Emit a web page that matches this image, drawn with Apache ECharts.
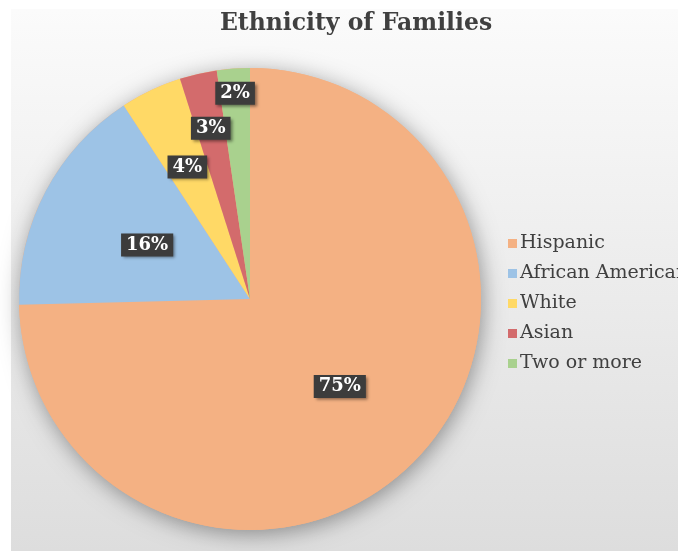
<!DOCTYPE html>
<html>
<head>
<meta charset="utf-8">
<style>
html,body{margin:0;padding:0;background:#ffffff;}
#chart{width:678px;height:551px;}
</style>
<script src="https://cdn.jsdelivr.net/npm/echarts@6/dist/echarts.min.js"></script>
</head>
<body>
<div id="chart"></div>
<script>
// ---- data ----
const titleText = 'Ethnicity of Families';
const categories = ['Hispanic', 'African American', 'White', 'Asian', 'Two or more'];
const values = [74.6, 16.2, 4.3, 2.6, 2.3];
// ---- styles ----
const colors = ['#F4B183', '#9DC3E6', '#FFD966', '#D36B6C', '#A9D18E'];
const labelRadiusFrac = [0.53, 0.49, 0.62, 0.745, 0.88]; // radial position of each label, as fraction of pie radius
const center = [250, 299];
const R = 231;
const serif = '"DejaVu Serif", "Liberation Serif", serif';

const chart = echarts.init(document.getElementById('chart'), null, {renderer: 'canvas'});

const baseData = categories.map((c, i) => ({name: c, value: values[i]}));

const series = [];
// shadow disc under the pie
series.push({
  type: 'pie', silent: true, center: center, radius: [0, R], startAngle: 90,
  label: {show: false}, labelLine: {show: false}, legendHoverLink: false,
  emphasis: {disabled: true},
  data: [{name: '__shadow', value: values.reduce((a, b) => a + b, 0),
    itemStyle: {color: '#F4B183', shadowBlur: 22, shadowColor: 'rgba(0,0,0,0.38)', shadowOffsetX: 2, shadowOffsetY: 4}}]
});
// main pie
series.push({
  type: 'pie', name: 'main', center: center, radius: [0, R], startAngle: 90, clockwise: true,
  color: colors, label: {show: false}, labelLine: {show: false},
  itemStyle: {borderWidth: 0},
  emphasis: {disabled: true},
  data: baseData
});
// label carrier series (transparent), one per label so each sits at its own radius
categories.forEach((c, k) => {
  series.push({
    type: 'pie', silent: true, center: center, radius: [0, 2 * R * labelRadiusFrac[k]],
    startAngle: 90, clockwise: true, legendHoverLink: false,
    emphasis: {disabled: true},
    itemStyle: {color: 'rgba(0,0,0,0)', borderWidth: 0},
    labelLine: {show: false},
    data: baseData.map((d, i) => ({
      name: d.name, value: d.value,
      label: {
        show: i === k, position: 'inside',
        formatter: p => Math.round(p.value) + '%',
        color: '#ffffff', fontFamily: serif, fontWeight: 'bold', fontSize: 18,
        backgroundColor: '#3c3c3c', padding: [3, 5, 2, 5],
        shadowColor: 'rgba(0,0,0,0.45)', shadowBlur: 3, shadowOffsetX: 2, shadowOffsetY: 2
      }
    }))
  });
});

chart.setOption({
  animation: false,
  color: colors,
  graphic: [{
    type: 'rect', z: -10, silent: true,
    shape: {x: 11, y: 9, width: 667, height: 542},
    style: {fill: new echarts.graphic.LinearGradient(0, 0, 0, 1, [
      {offset: 0, color: '#fbfbfb'}, {offset: 1, color: '#dddddd'}])}
  }],
  title: {
    text: titleText, left: 351, textAlign: 'center', top: 7,
    textStyle: {fontFamily: serif, fontWeight: 'bold', fontSize: 23.5, color: '#404040'}
  },
  legend: {
    orient: 'vertical', left: 503, top: 229, itemWidth: 9, itemHeight: 9, itemGap: 11,
    icon: 'rect', data: categories,
    textStyle: {fontFamily: serif, fontSize: 19, lineHeight: 19, color: '#404040', padding: [0, 0, 0, -2]}
  },
  series: series
});
</script>
</body>
</html>
